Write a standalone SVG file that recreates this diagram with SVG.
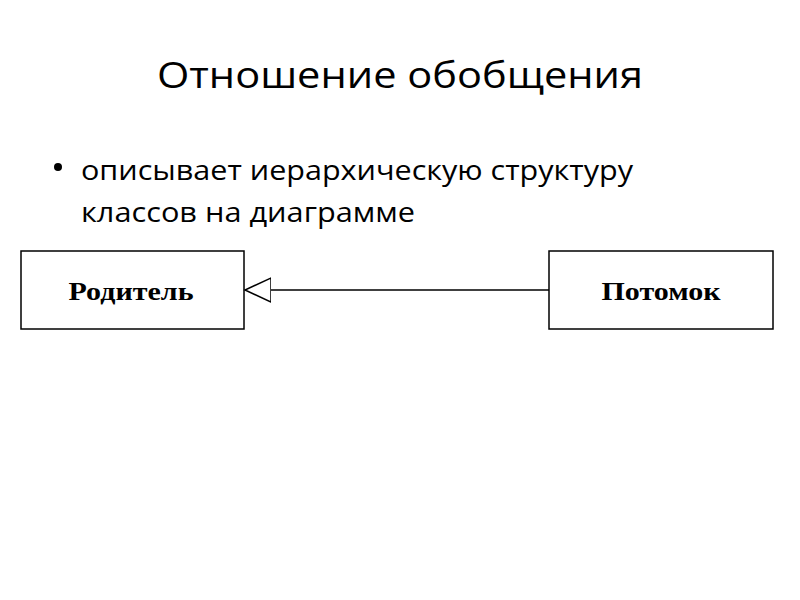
<svg xmlns="http://www.w3.org/2000/svg" width="800" height="600" viewBox="0 0 800 600">
<defs>
<style>
.title{font-family:"Open Sans","Noto Sans","Liberation Sans",sans-serif;font-size:36px;fill:#000}
.body{font-family:"Open Sans","Noto Sans","Liberation Sans",sans-serif;font-size:27px;fill:#000}
.box{fill:#fff;stroke:#000;stroke-width:1.5}
.lbl{font-family:"Liberation Serif","Times New Roman",serif;font-weight:bold;font-size:26px;fill:#000;text-anchor:middle}
.conn{stroke:#000;stroke-width:1.5;fill:none}
</style>
<marker id="gen" markerWidth="30" markerHeight="30" refX="26" refY="13" orient="auto" markerUnits="userSpaceOnUse">
<path d="M0,1 L26,13 L0,25 Z" fill="#fff" stroke="#000" stroke-width="1.5"/>
</marker>
</defs>
<rect width="800" height="600" fill="#fff"/>
<text class="title" x="400" y="88" text-anchor="middle" textLength="486" lengthAdjust="spacingAndGlyphs">Отношение обобщения</text>
<circle cx="58" cy="167" r="4" fill="#000"/>
<text class="body" x="81" y="180" textLength="552" lengthAdjust="spacingAndGlyphs">описывает иерархическую структуру</text>
<text class="body" x="81" y="222" textLength="334" lengthAdjust="spacingAndGlyphs">классов на диаграмме</text>
<g id="parent">
<rect class="box" x="21" y="251" width="223" height="78"/>
<text class="lbl" x="131" y="300" textLength="125" lengthAdjust="spacingAndGlyphs">Родитель</text>
</g>
<g id="child">
<rect class="box" x="549" y="251" width="224" height="78"/>
<text class="lbl" x="661" y="300" textLength="119" lengthAdjust="spacingAndGlyphs">Потомок</text>
</g>
<g id="connectors">
<line class="conn" x1="549" y1="290" x2="245" y2="290" marker-end="url(#gen)"/>
</g>
</svg>
